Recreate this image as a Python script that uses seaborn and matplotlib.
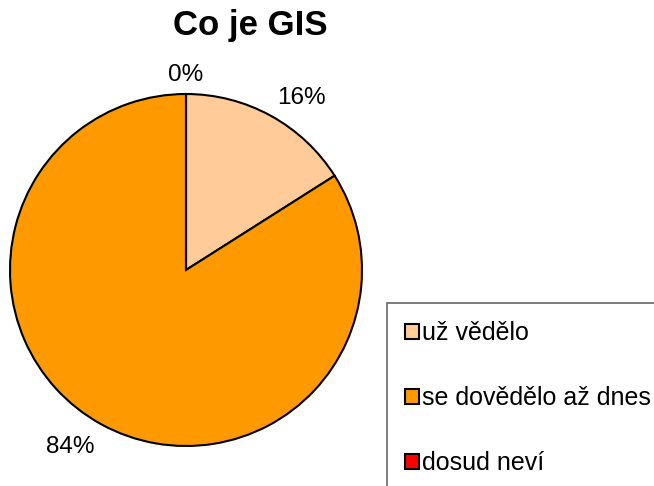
import matplotlib
matplotlib.use("Agg")
import matplotlib.pyplot as plt
import seaborn as sns
import numpy as np

sns.set_style("white")
plt.rcParams['font.family'] = ['Liberation Sans', 'DejaVu Sans']
plt.rcParams['text.color'] = 'black'

# data
categories = ["už vědělo", "se dovědělo až dnes", "dosud neví"]
shares = [16, 84, 0]
colors = ["#FFCC99", "#FF9900", "#FF0000"]

W, H = 654, 486
fig = plt.figure(figsize=(W / 100, H / 100), dpi=100)

# pie centre (186, 270), radius 176 px
cx, cy, r = 186, 270, 176
ax = fig.add_axes([(cx - r) / W, (H - cy - r) / H, 2 * r / W, 2 * r / H])
wedges, _ = ax.pie(
    shares, colors=colors, startangle=90, counterclock=False,
    wedgeprops=dict(edgecolor="black", linewidth=1.5),
)
ax.set_xlim(-1, 1)
ax.set_ylim(-1, 1)
ax.set_aspect("equal")
ax.axis("off")

# percentage labels, anchored just outside the edge like Excel does
total = sum(shares)
for w, v in zip(wedges, shares):
    mid = np.deg2rad((w.theta1 + w.theta2) / 2)
    x, y = np.cos(mid), np.sin(mid)
    ha = "center" if abs(x) < 0.02 else ("left" if x > 0 else "right")
    va = "baseline" if y > 0 else "top"
    ax.text(1.075 * x, 1.075 * y, f"{100 * v / total:.0f}%", ha=ha, va=va,
            fontsize=17.5, color="black")

fig.text(250 / W, 1 - 25 / H, "Co je GIS", ha="center", va="center",
         fontsize=25, fontweight="bold", color="black")

leg = fig.legend(wedges, categories, loc="upper left",
                 bbox_to_anchor=(387 / W, 1 - 303 / H),
                 fontsize=18, frameon=True, fancybox=False,
                 handlelength=0.55, handleheight=0.55, handletextpad=0.12,
                 labelspacing=1.64, borderpad=0.72, borderaxespad=0)
leg.get_frame().set_edgecolor("#404040")
leg.get_frame().set_linewidth(1.2)
for t in leg.get_texts():
    t.set_color("black")
for h in leg.legend_handles:
    h.set_edgecolor("black")
    h.set_linewidth(1.5)

fig.savefig("out.png", dpi=100)
